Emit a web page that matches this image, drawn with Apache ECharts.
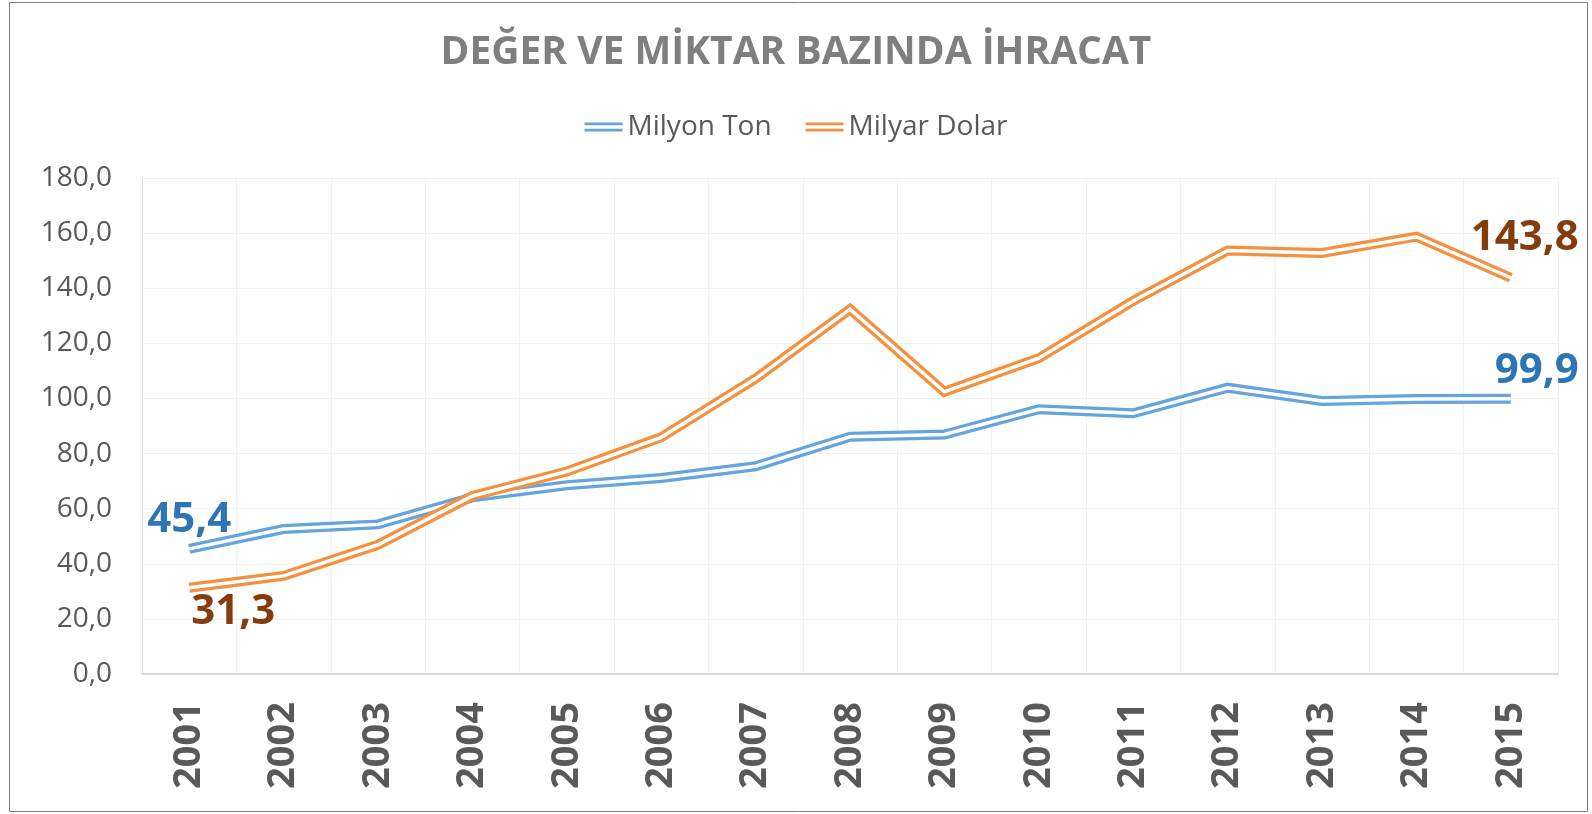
<!DOCTYPE html>
<html>
<head>
<meta charset="utf-8">
<script src="https://cdn.jsdelivr.net/npm/echarts@6/dist/echarts.min.js"></script>
<style>
  html, body { margin: 0; padding: 0; background: #fff; }
  #chart { width: 1592px; height: 814px; }
</style>
</head>
<body>
<div id="chart"></div>
<script>
var years = ['2001', '2002', '2003', '2004', '2005', '2006', '2007', '2008', '2009', '2010', '2011', '2012', '2013', '2014', '2015']
var milyonTon = [45.4, 52.6, 54.3, 64.1, 68.5, 71.1, 75.4, 86.1, 86.9, 96.1, 94.6, 103.9, 99.1, 99.8, 99.9]
var milyarDolar = [31.3, 35.6, 46.9, 64.6, 73.5, 85.9, 107.2, 132.4, 102.4, 114.6, 135.4, 153.7, 152.8, 158.7, 143.8]
var yTicks = [0, 20, 40, 60, 80, 100, 120, 140, 160, 180]

var blue = '#63A5DC'
var orange = '#F39140'
var fontFam = '"Open Sans", "Noto Sans", sans-serif'
var doubleIcon = 'path://M0,0H40V3H0Z M0,6.5H40V9.5H0Z'

function fmt (v) {
  return v.toFixed(1).replace('.', ',')
}

// only first and last points carry a value label
function endLabels (data, color, firstOffset, lastOffset, firstPos, lastPos) {
  return data.map(function (v, i) {
    var item = { value: v }
    if (i === 0 || i === data.length - 1) {
      item.label = {
        show: true,
        position: i === 0 ? firstPos : lastPos,
        offset: i === 0 ? firstOffset : lastOffset,
        formatter: function (p) { return fmt(p.value) },
        color: color,
        fontSize: 42,
        fontWeight: 'bold',
        fontFamily: fontFam
      }
    }
    return item
  })
}

var chart = echarts.init(document.getElementById('chart'))
var option = {
  animation: false,
  backgroundColor: '#fff',
  title: {
    text: 'DEĞER VE MİKTAR BAZINDA İHRACAT',
    left: 'center',
    top: 28,
    textStyle: { color: '#7F7F7F', fontSize: 39, fontWeight: 'bold', fontFamily: fontFam }
  },
  legend: {
    top: 108,
    left: 'center',
    itemWidth: 38,
    itemHeight: 10,
    itemGap: 34,
    textStyle: { color: '#595959', fontSize: 28, fontFamily: fontFam },
    data: [
      { name: 'Milyon Ton', icon: doubleIcon, itemStyle: { color: blue, opacity: 1 } },
      { name: 'Milyar Dolar', icon: doubleIcon, itemStyle: { color: orange, opacity: 1 } }
    ]
  },
  graphic: [
    {
      type: 'rect',
      shape: { x: 9.5, y: 2.5, width: 1578, height: 809 },
      style: { fill: 'none', stroke: '#7F7F7F', lineWidth: 1 },
      silent: true
    }
  ],
  grid: { left: 142, right: 34, top: 178, bottom: 140 },
  xAxis: {
    type: 'category',
    data: years,
    boundaryGap: true,
    axisLine: { lineStyle: { color: '#D9D9D9', width: 2 } },
    axisTick: { show: false },
    splitLine: { show: true, lineStyle: { color: '#F2F2F2' } },
    axisLabel: {
      rotate: 90,
      margin: 28,
      color: '#595959',
      fontSize: 38,
      fontWeight: 'bold',
      fontFamily: fontFam
    }
  },
  yAxis: {
    type: 'value',
    min: yTicks[0],
    max: yTicks[yTicks.length - 1],
    interval: yTicks[1] - yTicks[0],
    axisLine: { show: true, lineStyle: { color: '#D9D9D9', width: 1 } },
    axisTick: { show: false },
    splitLine: { lineStyle: { color: '#F2F2F2' } },
    axisLabel: {
      margin: 30,
      color: '#595959',
      fontSize: 28,
      fontFamily: fontFam,
      formatter: function (v) { return fmt(v) }
    }
  },
  series: [
    {
      name: 'Milyon Ton',
      type: 'line',
      data: endLabels(milyonTon, '#2E75B6', [0, -3], [26, -2], 'top', 'top'),
      symbol: 'circle',
      symbolSize: 0.1,
      showAllSymbol: true,
      itemStyle: { color: blue },
      color: blue,
      lineStyle: { color: blue, width: 10, join: 'miter' },
      z: 3
    },
    {
      name: 'Milyon Ton gap',
      type: 'line',
      data: milyonTon,
      symbol: 'none',
      silent: true,
      lineStyle: { color: '#fff', width: 3.5, join: 'miter' },
      z: 4
    },
    {
      name: 'Milyar Dolar',
      type: 'line',
      data: endLabels(milyarDolar, '#843C0C', [44, -2], [14, -14], 'bottom', 'top'),
      symbol: 'circle',
      symbolSize: 0.1,
      showAllSymbol: true,
      itemStyle: { color: orange },
      color: orange,
      lineStyle: { color: orange, width: 10, join: 'miter' },
      z: 5
    },
    {
      name: 'Milyar Dolar gap',
      type: 'line',
      data: milyarDolar,
      symbol: 'none',
      silent: true,
      lineStyle: { color: '#fff', width: 3.5, join: 'miter' },
      z: 6
    }
  ]
}
option && chart.setOption(option)
</script>
</body>
</html>
